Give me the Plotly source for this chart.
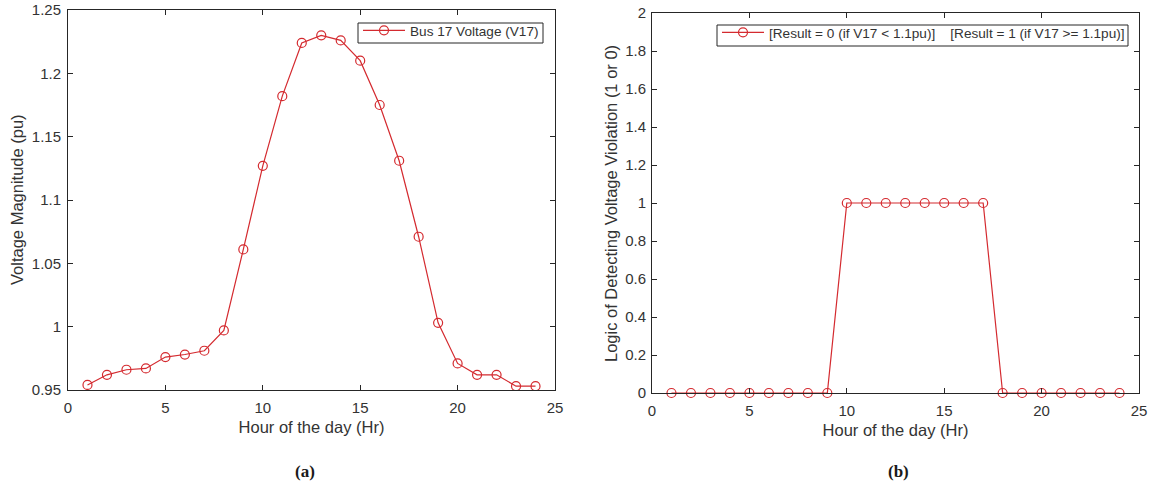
import plotly.graph_objects as go

# Hour of the day
hours = list(range(1, 25))

# Bus 17 voltage magnitude (pu) over the day
v17 = [0.954, 0.962, 0.966, 0.967, 0.976, 0.978, 0.981, 0.997,
       1.061, 1.127, 1.182, 1.224, 1.230, 1.226, 1.210, 1.175,
       1.131, 1.071, 1.003, 0.971, 0.962, 0.962, 0.953, 0.953]

# Violation flag: 1 when V17 >= 1.1 pu, otherwise 0
violation = [0, 0, 0, 0, 0, 0, 0, 0, 0,
             1, 1, 1, 1, 1, 1, 1, 1,
             0, 0, 0, 0, 0, 0, 0]

x_ticks = [0, 5, 10, 15, 20, 25]
v_ticks = [0.95, 1.0, 1.05, 1.1, 1.15, 1.2, 1.25]
v_tick_text = ["0.95", "1", "1.05", "1.1", "1.15", "1.2", "1.25"]
flag_ticks = [0, 0.2, 0.4, 0.6, 0.8, 1.0, 1.2, 1.4, 1.6, 1.8, 2.0]
flag_tick_text = ["0", "0.2", "0.4", "0.6", "0.8", "1", "1.2", "1.4", "1.6", "1.8", "2"]

RED = "#d42a2f"
AX = "#262626"
TXT = "#333333"
FONT = "Liberation Sans, Arial, sans-serif"
W, H = 1152, 483

fig = go.Figure()

marker_style = dict(symbol="circle-open", size=9, color=RED, line=dict(width=1.2))

fig.add_trace(go.Scatter(
    x=hours, y=v17, mode="lines+markers",
    name="Bus 17 Voltage (V17)",
    line=dict(color=RED, width=1.2),
    marker=marker_style,
    xaxis="x", yaxis="y", legend="legend",
))

fig.add_trace(go.Scatter(
    x=hours, y=violation, mode="lines+markers",
    name="[Result = 0 (if V17 &lt; 1.1pu)]\u00a0\u00a0\u00a0\u00a0[Result = 1 (if V17 &gt;= 1.1pu)]",
    line=dict(color=RED, width=1.2),
    marker=marker_style,
    xaxis="x2", yaxis="y2", legend="legend2",
    cliponaxis=False,
))

axis_common = dict(
    showgrid=False, zeroline=False, showline=True, linecolor=AX, linewidth=1,
    mirror="ticks", ticks="inside", ticklen=5, tickcolor=AX, tickwidth=1,
    automargin=False,
    tickfont=dict(family=FONT, size=15, color=TXT),
    title_font=dict(family=FONT, size=16.5, color=TXT),
)


def px_x(p):
    return p / W


def px_y(p):
    return 1 - p / H


legend_common = dict(
    xanchor="left", yanchor="top", bgcolor="rgba(0,0,0,0)", borderwidth=0,
    font=dict(family=FONT, size=13.6, color=TXT), itemwidth=42, tracegroupgap=0,
)

fig.update_layout(
    width=W, height=H,
    margin=dict(l=0, r=0, t=0, b=0, autoexpand=False),
    paper_bgcolor="white", plot_bgcolor="white",
    font=dict(family=FONT, color=AX),
    xaxis=dict(axis_common, domain=[px_x(68), px_x(555)], range=[0, 25],
               tickvals=x_ticks, ticklabelstandoff=4,
               title=dict(text="Hour of the day (Hr)", standoff=6), anchor="y"),
    yaxis=dict(axis_common, domain=[px_y(390), px_y(10)], range=[0.95, 1.25],
               tickvals=v_ticks, ticktext=v_tick_text, ticklabelstandoff=3,
               anchor="x"),
    xaxis2=dict(axis_common, domain=[px_x(652), px_x(1139)], range=[0, 25],
                tickvals=x_ticks, ticklabelstandoff=4,
                title=dict(text="Hour of the day (Hr)", standoff=6), anchor="y2"),
    yaxis2=dict(axis_common, domain=[px_y(393), px_y(13)], range=[0, 2],
                tickvals=flag_ticks, ticktext=flag_tick_text, ticklabelstandoff=2,
                anchor="x2"),
    legend=dict(legend_common, x=px_x(358), y=px_y(15)),
    legend2=dict(legend_common, x=px_x(717), y=px_y(17)),
    showlegend=True,
)

# Legend frames
for x0, x1, y0, y1 in ((358, 543, 23, 43), (717, 1128, 25, 46)):
    fig.add_shape(
        type="rect", xref="paper", yref="paper",
        x0=px_x(x0), x1=px_x(x1), y0=px_y(y1), y1=px_y(y0),
        line=dict(color=AX, width=1), fillcolor="rgba(0,0,0,0)", layer="above",
    )

# Vertical axis titles
for text, xc, yc in (("Voltage Magnitude (pu)", 17, 200),
                     ("Logic of Detecting Voltage Violation (1 or 0)", 611, 204)):
    fig.add_annotation(
        text=text, x=px_x(xc), y=px_y(yc), xref="paper", yref="paper",
        textangle=-90, showarrow=False, xanchor="center", yanchor="middle",
        font=dict(family=FONT, size=16.5, color=TXT),
    )

# Panel captions
for label, xc in (("(a)", 305), ("(b)", 898)):
    fig.add_annotation(
        text=f"<b>{label}</b>", x=px_x(xc), y=px_y(471), xref="paper", yref="paper",
        showarrow=False, xanchor="center", yanchor="middle",
        font=dict(family="Liberation Serif, Times New Roman, serif", size=17, color="#1a1a1a"),
    )

fig.write_html("out.html")
